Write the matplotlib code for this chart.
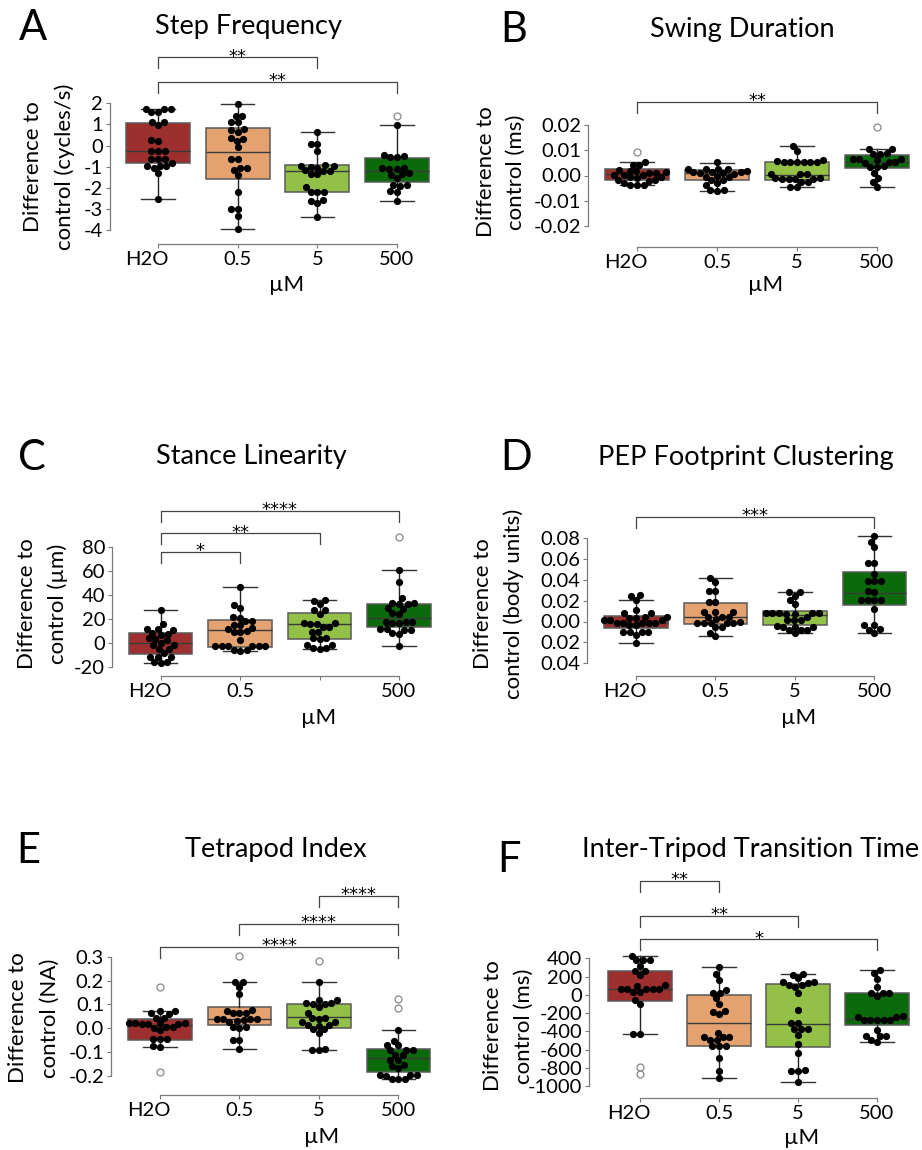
import numpy as np
import matplotlib
matplotlib.use("Agg")
import matplotlib.pyplot as plt
from matplotlib.transforms import ScaledTranslation

plt.rcParams['font.family'] = ['Lato', 'DejaVu Sans']

groups = ["H2O", "0.5", "5", "500"]
colors = ["#9E2F2F", "#E3A26F", "#93C047", "#0B6B0B"]

# ---- A: Step Frequency ----
a_pts = [
    [1.72, 1.72, 1.74, 1.58, 1.60, 1.10, 1.12, 0.98, 0.22, 0.24, -0.28, -0.28, -0.26,
     -0.63, -0.62, -0.65, -0.83, -0.96, -0.95, -0.97, -1.07, -1.30, -2.51],
    [1.95, 1.42, 1.40, 1.10, 1.12, 0.74, 0.76, 0.63, 0.32, 0.34, 0.22, -0.09, -0.63,
     -0.62, -1.07, -1.05, -1.15, -1.41, -2.21, -2.99, -3.02, -3.34, -3.93],
    [0.66, 0.07, 0.08, -0.25, -0.92, -0.95, -0.98, -1.00, -1.05, -1.18, -1.20, -1.22,
     -1.35, -1.37, -1.98, -2.18, -2.20, -2.22, -2.60, -2.64, -2.72, -3.38],
    [0.98, -0.45, -0.50, -0.52, -0.55, -1.05, -1.07, -1.10, -1.12, -1.30, -1.35, -1.38,
     -1.55, -1.85, -1.88, -1.90, -2.15, -2.18, -2.61],
]
a_med = [-0.28, -0.31, -1.22, -1.22]
a_q1 = [-0.85, -1.58, -2.18, -1.71]
a_q3 = [1.09, 0.82, -0.94, -0.59]
a_wlo = [-2.51, -3.93, -3.38, -2.61]
a_whi = [1.72, 1.95, 0.66, 0.98]
a_out = [[], [], [], [1.42]]
a_ticks = [2, 1, 0, -1, -2, -3, -4]
a_ticklabels = ["2", "1", "0", "-1", "-2", "-3", "-4"]
a_comp = [(1, 3, "**"), (1, 4, "**")]

# ---- B: Swing Duration ----
b_pts = [
    [0.0052, 0.0043, 0.0041, 0.0020, 0.0019, 0.0018, 0.0012, 0.0011, 0.0010, 0.0003,
     0.0002, 0.0001, -0.0006, -0.0007, -0.0008, -0.0017, -0.0018, -0.0020, -0.0030,
     -0.0036, -0.0038, -0.0039],
    [0.0052, 0.0027, 0.0026, 0.0025, 0.0024, 0.0016, 0.0015, 0.0014, 0.0013, 0.0009,
     0.0008, 0.0007, -0.0003, -0.0004, -0.0005, -0.0017, -0.0019, -0.0030, -0.0038,
     -0.0057, -0.0059, -0.0061],
    [0.0118, 0.0098, 0.0062, 0.0056, 0.0055, 0.0055, 0.0054, 0.0054, 0.0053, 0.0053,
     0.0007, 0.0006, 0.0005, -0.0010, -0.0011, -0.0012, -0.0012, -0.0013, -0.0013,
     -0.0025, -0.0026, -0.0045, -0.0047],
    [0.0105, 0.0103, 0.0088, 0.0086, 0.0084, 0.0066, 0.0065, 0.0064, 0.0063, 0.0053,
     0.0052, 0.0051, 0.0036, 0.0035, 0.0033, 0.0009, -0.0011, -0.0027, -0.0047],
]
b_med = [0.0006, 0.0011, 0.0002, 0.0052]
b_q1 = [-0.0018, -0.0018, -0.0018, 0.0029]
b_q3 = [0.0026, 0.0022, 0.0055, 0.0081]
b_wlo = [-0.0038, -0.0061, -0.0047, -0.0047]
b_whi = [0.0052, 0.0051, 0.0118, 0.0105]
b_out = [[0.0092], [], [], [0.0193]]
b_ticks = [0.02, 0.01, 0.0, -0.01, -0.02]
b_ticklabels = ["0.02", "0.01", "0.00", "-0.01", "-0.02"]
b_comp = [(1, 4, "**")]

# ---- C: Stance Linearity ----
c_pts = [
    [27.5, 15.6, 11.8, 11.5, 11.0, 8.5, 8.0, 6.8, 4.0, 3.5, 2.6, 0.5, -1.5, -1.8, -4.8,
     -5.0, -8.4, -11.2, -11.5, -11.8, -15.9, -16.0, -16.2],
    [46.8, 31.7, 28.9, 21.5, 20.8, 18.6, 18.2, 15.3, 14.9, 12.5, 12.1, 9.8, 9.5, 9.2,
     2.6, -2.0, -2.1, -2.2, -2.3, -2.4, -2.5, -5.6, -6.0, -6.5],
    [35.8, 34.8, 32.2, 27.8, 27.2, 24.6, 16.8, 16.5, 16.2, 16.0, 13.8, 13.4, 9.5, 9.2,
     4.2, 4.0, 3.8, -1.5, -1.7, -4.0, -4.3, -4.8],
    [60.7, 50.5, 37.2, 33.5, 33.1, 32.8, 32.5, 29.0, 28.6, 24.8, 24.5, 17.6, 17.4, 17.2,
     17.0, 16.8, 11.7, 11.5, 11.3, 11.1, 8.3, 8.0, -2.1],
]
c_med = [-0.1, 10.9, 15.9, 20.6]
c_q1 = [-9.2, -2.9, 3.2, 13.2]
c_q3 = [8.7, 19.2, 25.3, 32.2]
c_wlo = [-16.2, -6.5, -4.8, -2.1]
c_whi = [27.5, 46.8, 35.8, 60.7]
c_out = [[], [], [], [88.3]]
c_ticks = [80, 60, 40, 20, 0, -20]
c_ticklabels = ["80", "60", "40", "20", "0", "-20"]
c_comp = [(1, 2, "*"), (1, 3, "**"), (1, 4, "****")]

# ---- D: PEP Footprint Clustering ----
d_pts = [
    [0.0255, 0.0250, 0.0204, 0.0110, 0.0080, 0.0078, 0.0042, 0.0040, 0.0038, 0.0036,
     0.0015, 0.0013, 0.0011, -0.0010, -0.0011, -0.0012, -0.0013, -0.0014, -0.0034,
     -0.0036, -0.0098, -0.0100, -0.0101, -0.0103, -0.0130, -0.0210],
    [0.0415, 0.0377, 0.0295, 0.0290, 0.0192, 0.0188, 0.0096, 0.0094, 0.0092, 0.0048,
     0.0046, 0.0044, 0.0020, -0.0009, -0.0010, -0.0011, -0.0012, -0.0013, -0.0014,
     -0.0055, -0.0057, -0.0107, -0.0139],
    [0.0284, 0.0280, 0.0245, 0.0207, 0.0168, 0.0082, 0.0080, 0.0079, 0.0078, 0.0077,
     0.0076, 0.0075, 0.0040, 0.0015, 0.0014, 0.0013, -0.0048, -0.0050, -0.0052,
     -0.0054, -0.0080, -0.0082, -0.0085, -0.0114],
    [0.0822, 0.0767, 0.0713, 0.0562, 0.0558, 0.0457, 0.0394, 0.0392, 0.0390, 0.0289,
     0.0285, 0.0209, 0.0207, 0.0205, 0.0203, 0.0117, -0.0034, -0.0036, -0.0075,
     -0.0077, -0.0110],
]
d_med = [-0.0011, 0.0040, 0.0063, 0.0271]
d_q1 = [-0.0060, -0.0024, -0.0034, 0.0159]
d_q3 = [0.0053, 0.0181, 0.0101, 0.0479]
d_wlo = [-0.0210, -0.0139, -0.0114, -0.0114]
d_whi = [0.0204, 0.0415, 0.0284, 0.0822]
d_out = [[], [], [], []]
d_ticks = [0.08, 0.06, 0.04, 0.02, 0.0, -0.02, -0.04]
d_ticklabels = ["0.08", "0.06", "0.04", "0.02", "0.00", "0.02", "0.04"]
d_comp = [(1, 4, "***")]

# ---- E: Tetrapod Index ----
e_pts = [
    [0.073, 0.072, 0.062, 0.060, 0.044, 0.042, 0.023, 0.022, 0.021, 0.021, 0.020, 0.020,
     0.019, 0.005, 0.004, 0.003, -0.007, -0.045, -0.046, -0.047, -0.076, -0.077],
    [0.195, 0.193, 0.172, 0.142, 0.075, 0.073, 0.066, 0.064, 0.062, 0.040, 0.039, 0.038,
     0.037, 0.036, 0.029, 0.027, 0.005, 0.004, 0.003, -0.048, -0.050, -0.085],
    [0.195, 0.120, 0.118, 0.107, 0.105, 0.103, 0.101, 0.090, 0.063, 0.044, 0.042, 0.040,
     0.028, 0.026, 0.015, 0.013, 0.011, -0.003, -0.005, -0.018, -0.088, -0.090, -0.091],
    [-0.007, -0.052, -0.068, -0.072, -0.089, -0.091, -0.093, -0.110, -0.114, -0.131,
     -0.135, -0.152, -0.156, -0.168, -0.194, -0.196, -0.197, -0.199, -0.212, -0.214,
     -0.214],
]
e_med = [0.0138, 0.0377, 0.0489, -0.123]
e_q1 = [-0.049, 0.0126, 0.0, -0.182]
e_q3 = [0.0377, 0.088, 0.1018, -0.088]
e_wlo = [-0.077, -0.085, -0.091, -0.214]
e_whi = [0.0725, 0.195, 0.195, -0.007]
e_out = [[0.174, -0.182], [0.303], [0.282], [0.121, 0.087]]
e_ticks = [0.3, 0.2, 0.1, 0.0, -0.1, -0.2]
e_ticklabels = ["0.3", "0.2", "0.1", "0.0", "-0.1", "-0.2"]
e_comp = [(3, 4, "****"), (2, 4, "****"), (1, 4, "****")]

# ---- F: Inter-Tripod Transition Time ----
f_pts = [
    [429, 383, 379, 376, 316, 266, 262, 217, 102, 98, 66, 64, 62, 60, 58, 36, 32, -57,
     -104, -428, -432],
    [308, 228, 162, 53, 25, 21, -38, -104, -183, -187, -214, -415, -464, -466, -468,
     -493, -497, -558, -561, -564, -696, -832, -908],
    [228, 222, 181, 140, 137, 134, 107, 105, 82, 16, -167, -304, -308, -376, -378, -380,
     -441, -539, -641, -830, -832, -834, -952],
    [272, 235, 170, 89, 25, 23, 21, -13, -236, -240, -244, -272, -274, -276, -278, -280,
     -386, -450, -452, -455, -495, -521],
]
f_med = [64, -312, -320, -269]
f_q1 = [-68, -561, -569, -331]
f_q3 = [264, -2, 115, 23]
f_wlo = [-430, -908, -952, -521]
f_whi = [429, 308, 225, 272]
f_out = [[-795, -868], [], [], []]
f_ticks = [400, 200, 0, -200, -400, -600, -800, -1000]
f_ticklabels = ["400", "200", "0", "-200", "-400", "-600", "-800", "-1000"]
f_comp = [(1, 2, "**"), (1, 3, "**"), (1, 4, "*")]

W, H = 922, 1150
fig = plt.figure(figsize=(W / 100, H / 100), dpi=100)


def fx(x):
    return x / W


def fy(y):
    return 1 - y / H


def swarm(ys, d):
    # simple beeswarm in pixel space
    order = np.argsort(ys)
    xs = np.zeros(len(ys))
    placed = []
    for i in order:
        y = ys[i]
        near = [(px, py) for px, py in placed if abs(py - y) < d]
        cands = [0.0]
        for px, py in near:
            dx = np.sqrt(d * d - (py - y) ** 2)
            cands += [px - dx, px + dx]
        cands.sort(key=abs)
        for c in cands:
            if all((c - px) ** 2 + (y - py) ** 2 >= d * d - 1e-6 for px, py in near):
                xs[i] = c
                break
        placed.append((xs[i], y))
    return xs


def panel(box, pts, med, q1, q3, wlo, whi, outs, ticks, ticklabels, comps, brackets,
          xlabels=groups):
    spine_x, axis_y, x1, x4, t_hi, p_hi, t_lo, p_lo = box
    xs = (x4 - x1) / 3.0
    right = x4 + 0.6 * xs
    ax = fig.add_axes([fx(spine_x), fy(axis_y), (right - spine_x) / W, (axis_y - p_hi) / H])
    sc = (p_lo - p_hi) / (t_hi - t_lo)
    ax.set_ylim(t_lo - (axis_y - p_lo) / sc, t_hi)
    ax.set_xlim(1 - (x1 - spine_x) / xs, 4 + (right - x4) / xs)
    ax.patch.set_alpha(0)

    stats = [dict(med=med[i], q1=q1[i], q3=q3[i], whislo=wlo[i], whishi=whi[i],
                  fliers=outs[i]) for i in range(4)]
    bp = ax.bxp(stats, positions=[1, 2, 3, 4], widths=0.8, patch_artist=True,
                capwidths=0.42,
                boxprops=dict(edgecolor="#5a5a5a", linewidth=1.1),
                medianprops=dict(color="#3a3a3a", linewidth=1.0),
                whiskerprops=dict(color="#222222", linewidth=1.0),
                capprops=dict(color="#333333", linewidth=1.0),
                flierprops=dict(marker="o", markerfacecolor="none",
                                markeredgecolor="#888888", markersize=5,
                                markeredgewidth=0.9))
    for patch, c in zip(bp["boxes"], colors):
        patch.set_facecolor(c)
    for key in bp:
        for art in bp[key]:
            art.set_clip_on(False)

    for i, vals in enumerate(pts):
        vals = np.asarray(vals, dtype=float)
        pix = ax.transData.transform(np.column_stack([np.full(len(vals), i + 1.0), vals]))
        off = swarm(pix[:, 1], 6.6)
        xd = ax.transData.inverted().transform(np.column_stack([pix[:, 0] + off, pix[:, 1]]))[:, 0]
        ax.plot(xd, vals, "o", color="black", markersize=5.2, markeredgewidth=0,
                zorder=4, clip_on=False)

    # significance brackets
    leg = 11 / sc
    for (i, j, lab), yb in zip(comps, brackets):
        ax.plot([i, i, j, j], [yb - leg, yb, yb, yb - leg], color="#444444", lw=0.9,
                clip_on=False)
        ax.annotate(lab, xy=((i + j) / 2, yb), xytext=(0, -3.2), textcoords="offset points",
                    ha="center", va="baseline", fontsize=13, family="DejaVu Sans",
                    annotation_clip=False)

    for s in ["top", "right"]:
        ax.spines[s].set_visible(False)
    for s in ["left", "bottom"]:
        ax.spines[s].set_color("#7a7a7a")
        ax.spines[s].set_linewidth(0.9)
    ax.spines["left"].set_bounds(min(ticks), max(ticks))
    ax.spines["bottom"].set_bounds(1, 4)
    ax.set_yticks(ticks)
    ax.set_yticklabels(ticklabels)
    ax.set_xticks([1, 2, 3, 4])
    ax.set_xticklabels(xlabels)
    ax.tick_params(axis="y", length=3, pad=2, labelsize=14.5, color="#7a7a7a")
    ax.tick_params(axis="x", length=3, pad=2, labelsize=14.5, color="#7a7a7a")
    lab0 = ax.get_xticklabels()[0]
    lab0.set_transform(lab0.get_transform() + ScaledTranslation(-0.11, 0, fig.dpi_scale_trans))
    return ax


def texts(letter, lpos, title, tpos, yl1, yl2, ylx1, ylx2, yly, mu):
    fig.text(fx(lpos[0]), fy(lpos[1]), letter, fontsize=30, ha="center", va="baseline")
    fig.text(fx(tpos[0]), fy(tpos[1]), title, fontsize=19.5, ha="center", va="baseline")
    fig.text(fx(ylx1), fy(yly), yl1, fontsize=16, rotation=90, ha="center", va="center")
    fig.text(fx(ylx2), fy(yly), yl2, fontsize=16, rotation=90, ha="center", va="center")
    fig.text(fx(mu[0]), fy(mu[1]), "µM", fontsize=16, ha="center", va="center")


panel((110, 244, 158, 397, 2, 103.3, -4, 230), a_pts, a_med, a_q1, a_q3, a_wlo, a_whi,
      a_out, a_ticks, a_ticklabels, a_comp, [4.18, 3.02])
texts("A", (33, 40), "Step Frequency", (248, 34), "Difference to", "control (cycles/s)",
      33, 65, 167, (287, 285))

panel((588, 247, 637, 877, 0.02, 125, -0.02, 226), b_pts, b_med, b_q1, b_q3, b_wlo, b_whi,
      b_out, b_ticks, b_ticklabels, b_comp, [0.0291])
texts("B", (514, 42), "Swing Duration", (742, 37), "Difference to", "control (ms)",
      486, 516, 172, (766, 285))

panel((112, 676, 160.7, 399, 80, 546.7, -20, 667.3), c_pts, c_med, c_q1, c_q3, c_wlo, c_whi,
      c_out, c_ticks, c_ticklabels, c_comp, [75.9, 91.1, 109.9],
      xlabels=["H2O", "0.5", "", "500"])
texts("C", (32, 470), "Stance Linearity", (251, 464), "Difference to", "control (µm)",
      27, 58, 604, (319, 718))

panel((587, 676, 636, 874.3, 0.08, 538.3, -0.04, 663.1), d_pts, d_med, d_q1, d_q3, d_wlo,
      d_whi, d_out, d_ticks, d_ticklabels, d_comp, [0.1008])
texts("D", (516, 470), "PEP Footprint Clustering", (746, 465), "Difference to",
      "control (body units)", 483, 514, 604, (799, 718))

panel((111, 1095, 160, 398.3, 0.3, 956.7, -0.2, 1076), e_pts, e_med, e_q1, e_q3, e_wlo, e_whi,
      e_out, e_ticks, e_ticklabels, e_comp, [0.5557, 0.437, 0.342])
texts("E", (28, 863), "Tetrapod Index", (276, 857), "Difference to", "control (NA)",
      18, 50, 1018, (322, 1137))

panel((589.3, 1097.7, 640, 877, 400, 958.3, -1000, 1086), f_pts, f_med, f_q1, f_q3, f_wlo,
      f_whi, f_out, f_ticks, f_ticklabels, f_comp, [1248, 867, 608])
texts("F", (509, 872), "Inter-Tripod Transition Time", (751, 857), "Difference to",
      "control (ms)", 493, 524, 1026, (802, 1138))

fig.savefig("out.png", dpi=100)
